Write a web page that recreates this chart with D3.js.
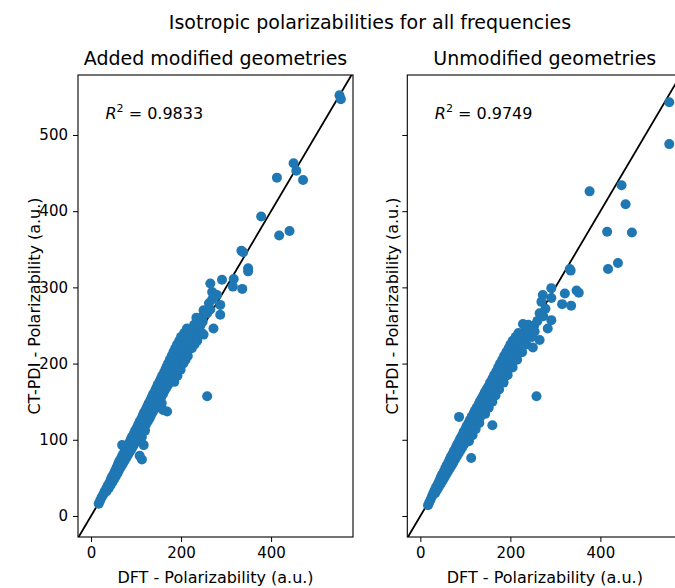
<!DOCTYPE html>
<html>
<head>
<meta charset="utf-8">
<script src="https://cdn.jsdelivr.net/npm/d3@7"></script>
<style>
  body { margin: 0; background: #fff; }
  svg { display: block; font-family: "DejaVu Sans", sans-serif; }
</style>
</head>
<body>
<div id="chart"></div>
<script>
// Data: [DFT, CT-PDI] polarizabilities (a.u.)
const modifiedPoints = [
  [17,16],[20,20],[23,24],[27,28],[30,32],[34,32],[34,36],[39,36],[37,40],[43,40],
  [41,44],[47,44],[44,48],[51,48],[47,52],[55,52],[51,56],[59,56],[54,60],[62,60],
  [58,60],[57,64],[66,64],[62,64],[60,68],[70,68],[65,68],[63,72],[74,72],[69,72],
  [67,76],[78,76],[72,76],[70,80],[82,80],[76,80],[74,84],[86,84],[80,84],[77,88],
  [90,88],[84,88],[69,93],[81,92],[94,92],[88,92],[85,96],[98,96],[92,96],[88,100],
  [102,100],[95,100],[110,100],[91,104],[106,104],[99,104],[113,104],[95,108],[110,108],[103,108],
  [98,112],[114,112],[106,112],[120,112],[102,116],[118,116],[110,116],[105,120],[122,120],[114,120],
  [108,124],[126,124],[117,124],[112,128],[130,128],[121,128],[115,132],[133,132],[124,132],[118,136],
  [137,136],[128,136],[122,140],[141,140],[131,140],[125,144],[145,144],[135,144],[128,148],[149,148],
  [138,148],[157,148],[132,152],[152,152],[142,152],[135,156],[156,156],[145,156],[138,160],[160,160],
  [149,160],[142,164],[163,164],[152,164],[145,168],[167,168],[156,168],[148,172],[171,172],[159,172],
  [152,176],[174,176],[163,176],[185,176],[155,180],[178,180],[166,180],[158,184],[182,184],[170,184],
  [192,184],[162,188],[185,188],[173,188],[165,192],[189,192],[177,192],[199,192],[168,196],[192,196],
  [180,196],[171,200],[196,200],[184,200],[205,200],[175,205],[200,205],[188,205],[210,205],[179,210],
  [205,210],[192,210],[215,210],[183,215],[210,215],[196,215],[187,220],[214,220],[200,220],[224,220],
  [191,225],[219,225],[205,225],[230,225],[196,230],[224,230],[210,230],[236,230],[200,235],[229,235],
  [214,235],[207,240],[234,240],[219,240],[246,240],[213,246],[238,245],[224,245],[243,250],
  [229,251],[248,255],[236,257],
  [113,74],[108,79],[117,93],[169,137],[160,139],[258,157],[250,238],
  [234,260],[248,262],[258,266],[287,264],[250,270],[265,271],[272,246],[262,279],[269,284],[272,292],
  [269,294],[265,305],[287,277],[291,310],[317,311],[315,301],[336,298],[280,290],
  [334,348],[338,346],[349,325],[349,321],[378,393],[418,368],[441,374],[413,444],[450,463],
  [456,453],[471,441],[552,552],[555,547]
];

const unmodifiedPoints = [
  [17,14],[20,18],[23,22],[26,26],[29,30],[33,30],[32,34],[37,34],[35,38],[41,38],
  [39,42],[45,42],[42,46],[49,46],[45,50],[53,50],[48,54],[57,54],[52,54],[52,58],
  [61,58],[56,58],[55,62],[65,62],[60,62],[58,66],[69,66],[63,66],[62,70],[73,70],
  [67,70],[65,74],[77,74],[71,74],[68,78],[81,78],[74,78],[72,82],[85,82],[78,82],
  [75,86],[89,86],[82,86],[79,90],[93,90],[86,90],[82,94],[97,94],[89,94],[86,98],
  [101,98],[93,98],[108,98],[89,102],[105,102],[97,102],[93,106],[109,106],[101,106],[116,106],
  [96,110],[113,110],[104,110],[100,114],[117,114],[108,114],[123,114],[103,118],[121,118],[112,118],
  [107,122],[125,122],[116,122],[131,122],[110,126],[129,126],[119,126],[86,130],[114,130],[133,130],
  [123,130],[118,134],[137,134],[127,134],[144,134],[121,138],[141,138],[131,138],[125,142],[145,142],
  [135,142],[152,142],[129,146],[149,146],[139,146],[132,150],[153,150],[142,150],[160,150],[136,154],
  [157,154],[146,154],[140,158],[161,158],[150,158],[167,158],[143,162],[165,162],[154,162],[147,166],
  [169,166],[158,166],[175,166],[151,170],[173,170],[162,170],[155,175],[178,175],[166,175],[185,175],
  [160,180],[183,180],[171,180],[164,185],[188,185],[176,185],[194,185],[169,190],[193,190],[181,190],
  [173,195],[198,195],[185,195],[205,195],[177,200],[203,200],[190,200],[182,205],[208,205],[195,205],
  [215,205],[186,210],[213,210],[199,210],[191,215],[218,215],[204,215],[226,215],[196,220],[223,220],
  [209,220],[200,225],[228,225],[214,225],[236,225],[205,230],[233,230],[219,230],[212,235],[238,235],
  [224,235],[248,235],[218,240],[243,240],[229,240],[248,245],[234,246],[253,250],[240,251],
  [113,76],[160,119],[258,157],[250,221],[265,231],[254,242],[228,252],[283,246],[260,256],[291,257],
  [265,266],[273,262],[269,281],[278,272],[291,286],[272,290],[291,299],[315,278],[335,276],[321,292],
  [347,296],[352,293],[332,324],[334,322],[417,324],[439,332],[415,373],[470,372],[376,426],[447,434],
  [456,409],[553,543],[553,488]
];

const panelTitles = ['Added modified geometries', 'Unmodified geometries'];
const r2Values = ['0.9833', '0.9749'];
const xTicks = [0, 200, 400];
const yTicks = [0, 100, 200, 300, 400, 500];
const xDomain = [-29, 582];
const yDomain = [-27.6, 578.7];

const width = 675, height = 588;
const svg = d3.select('#chart').append('svg')
  .attr('width', width)
  .attr('height', height);

// Suptitle
svg.append('text')
  .attr('x', 370)
  .attr('y', 29)
  .attr('text-anchor', 'middle')
  .style('font-size', '19px')
  .text('Isotropic polarizabilities for all frequencies');

const axesW = 275, axesH = 462, axesTop = 75;
const panels = [
  { left: 78, data: modifiedPoints, showYLabels: true, yLabelOffset: 38 },
  { left: 407.3, data: unmodifiedPoints, showYLabels: false, yLabelOffset: 9 }
];

panels.forEach((p, i) => {
  const x = d3.scaleLinear().domain(xDomain).range([p.left, p.left + axesW]);
  const y = d3.scaleLinear().domain(yDomain).range([axesTop + axesH, axesTop]);

  const clipId = 'clip' + i;
  svg.append('clipPath').attr('id', clipId)
    .append('rect')
    .attr('x', p.left).attr('y', axesTop)
    .attr('width', axesW).attr('height', axesH);

  const plot = svg.append('g').attr('clip-path', `url(#${clipId})`);

  // identity line (under the points, as in the reference)
  plot.append('line')
    .attr('x1', x(-100)).attr('y1', y(-100))
    .attr('x2', x(700)).attr('y2', y(700))
    .attr('stroke', '#000')
    .attr('stroke-width', 1.8);

  // scatter
  plot.selectAll('circle')
    .data(p.data)
    .enter()
    .append('circle')
    .attr('cx', d => x(d[0]))
    .attr('cy', d => y(d[1]))
    .attr('r', 5)
    .attr('fill', '#1f77b4');

  // axes
  const xAxis = d3.axisBottom(x).tickValues(xTicks).tickSize(5).tickPadding(5);
  const yAxis = d3.axisLeft(y).tickValues(yTicks).tickSize(5).tickPadding(5);
  if (!p.showYLabels) yAxis.tickFormat('');

  const gx = svg.append('g')
    .attr('transform', `translate(0,${axesTop + axesH})`)
    .call(xAxis);
  const gy = svg.append('g')
    .attr('transform', `translate(${p.left},0)`)
    .call(yAxis);

  [gx, gy].forEach(g => {
    g.select('.domain').remove();
    g.selectAll('.tick line').attr('stroke', '#000').attr('stroke-width', 1);
    g.selectAll('.tick text')
      .attr('fill', '#000')
      .style('font-size', '15px')
      .style('font-family', '"DejaVu Sans", sans-serif');
  });

  // frame
  svg.append('rect')
    .attr('x', p.left).attr('y', axesTop)
    .attr('width', axesW).attr('height', axesH)
    .attr('fill', 'none')
    .attr('stroke', '#000')
    .attr('stroke-width', 1.1);

  // panel title
  svg.append('text')
    .attr('x', p.left + axesW / 2)
    .attr('y', 65)
    .attr('text-anchor', 'middle')
    .style('font-size', '19px')
    .text(panelTitles[i]);

  // axis labels
  svg.append('text')
    .attr('x', p.left + axesW / 2)
    .attr('y', 583)
    .attr('text-anchor', 'middle')
    .style('font-size', '16px')
    .text('DFT - Polarizability (a.u.)');

  svg.append('text')
    .attr('transform', `translate(${p.left - p.yLabelOffset},${axesTop + axesH / 2}) rotate(-90)`)
    .attr('text-anchor', 'middle')
    .style('font-size', '16px')
    .text('CT-PDI - Polarizability (a.u.)');

  // R^2 annotation
  const t = svg.append('text')
    .attr('x', x(32))
    .attr('y', y(521))
    .style('font-size', '16px');
  t.append('tspan').style('font-style', 'italic').text('R');
  t.append('tspan').attr('dy', -7).style('font-size', '11px').text('2');
  t.append('tspan').attr('dy', 7).text(' = ' + r2Values[i]);
});
</script>
</body>
</html>
